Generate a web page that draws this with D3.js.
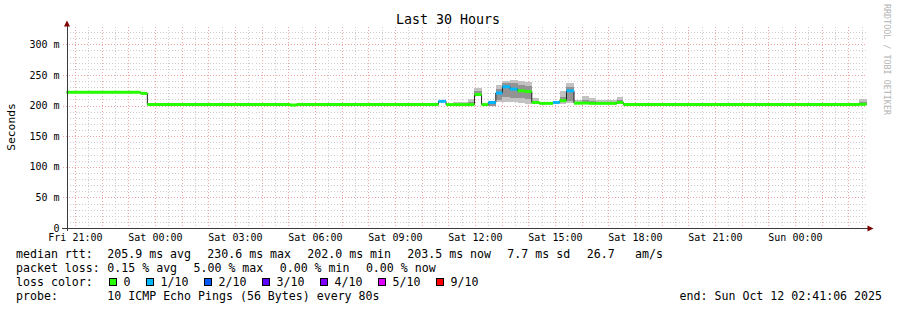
<!DOCTYPE html>
<html>
<head>
<meta charset="utf-8">
<script src="https://cdn.jsdelivr.net/npm/d3@7"></script>
<style>
  body { margin: 0; background: #fff; }
  text { font-family: "DejaVu Sans Mono", monospace; fill: #000; }
</style>
</head>
<body>
<div id="chart"></div>
<script>
// time window of the graph
const startTime = "2025-10-10 20:41:06";
const endTime = "2025-10-12 02:41:06";

// consolidated steps (start of each step)
const stepTimes = [
  "2025-10-10 20:41:06", "2025-10-10 23:28:00", "2025-10-10 23:43:00",
  "2025-10-11 05:04:00", "2025-10-11 05:19:00", "2025-10-11 10:38:00",
  "2025-10-11 10:55:00", "2025-10-11 11:11:00", "2025-10-11 11:45:00",
  "2025-10-11 11:59:00", "2025-10-11 12:15:00", "2025-10-11 12:30:00",
  "2025-10-11 12:47:00", "2025-10-11 13:02:00", "2025-10-11 13:19:00",
  "2025-10-11 13:36:00", "2025-10-11 13:53:00", "2025-10-11 14:08:00",
  "2025-10-11 14:25:00", "2025-10-11 14:56:00", "2025-10-11 15:11:00",
  "2025-10-11 15:26:00", "2025-10-11 15:43:00", "2025-10-11 16:01:00",
  "2025-10-11 16:17:00", "2025-10-11 16:32:00", "2025-10-11 17:19:00",
  "2025-10-11 17:34:00", "2025-10-12 02:24:00"
];
// median rtt in ms
const medianMs = [
  221.5, 219.8, 201.7, 200.8, 201.7, 206.8, 201.5, 201.5, 201.5, 218,
  201.5, 205, 220.4, 230.6, 226.8, 224, 222.8, 205, 203.5, 205,
  208, 224, 203.8, 204, 203.5, 203.5, 205, 201.8, 202
];
// lost pings out of 10
const lossCount = [
  0, 0, 0, 0, 0, 1, 0, 0, 0, 0,
  0, 1, 1, 1, 1, 0, 0, 0, 0, 1,
  0, 1, 0, 0, 0, 0, 0, 0, 0
];
// smoke: full spread of pings and the denser core (null = hidden under line)
const smokeLo = [
  null, null, null, null, null, null, null, 200.5, 200, 215,
  null, 200, 205, 206, 205, 204, 203, 203, null, null,
  203, 204, 202, 202, 202, 202, 203, null, 201
];
const smokeHi = [
  null, null, null, null, null, null, null, 205, 211, 229,
  null, 206, 233, 240, 241, 240, 238.5, 212, null, null,
  224, 237, 209, 216, 213, 209, 214, null, 210
];
const coreLo = [
  null, null, null, null, null, null, null, null, 202, 217,
  null, 200, 209, 214, 213, 212, 210, 204, null, null,
  205, 208, 203, 204, 203, 203, 204, null, 202
];
const coreHi = [
  null, null, null, null, null, null, null, null, 206, 224,
  null, 204, 227, 236, 236, 234, 232, 208, null, null,
  214, 231, 206, 209, 208, 206, 209, null, 206
];

// legend
const lossLabels = ["0", "1/10", "2/10", "3/10", "4/10", "5/10", "9/10"];
const lossColors = ["#26ff00", "#00b8ff", "#0059ff", "#5e00ff", "#7e00ff", "#dd00ff", "#ff0000"];
const rttStats = ["205.9 ms avg", "230.6 ms max", "202.0 ms min", "203.5 ms now", "7.7 ms sd"];
const lossStats = ["0.15 % avg", "5.00 % max", "0.00 % min", "0.00 % now"];
const yTicks = [0, 50, 100, 150, 200, 250, 300];

const width = 897, height = 310;
const plot = { left: 66.5, right: 866.5, top: 26.5, bottom: 228 };

const parse = d3.timeParse("%Y-%m-%d %H:%M:%S");
const t0 = parse(startTime), t1 = parse(endTime);
const times = stepTimes.map(parse);
const steps = times.map((t, i) => ({
  t0: t, t1: i < times.length - 1 ? times[i + 1] : t1,
  median: medianMs[i], loss: lossCount[i],
  lo: smokeLo[i], hi: smokeHi[i], clo: coreLo[i], chi: coreHi[i]
}));

const x = d3.scaleTime().domain([t0, t1]).range([plot.left, plot.right]);
const y = d3.scaleLinear().domain([0, 329]).range([plot.bottom, plot.top]);

const svg = d3.select("#chart").append("svg")
  .attr("width", width).attr("height", height);
svg.append("rect").attr("width", width).attr("height", height).attr("fill", "#fff");

// grid
const grid = svg.append("g").attr("shape-rendering", "crispEdges");
const minorColor = "#cdcdcd", majorColor = "#f0a4a4";

grid.selectAll(".hminor").data(d3.range(0, 329, 10).filter(v => v % 50 !== 0))
  .join("line")
  .attr("x1", plot.left).attr("x2", plot.right)
  .attr("y1", d => Math.round(y(d)) + 0.5).attr("y2", d => Math.round(y(d)) + 0.5)
  .attr("stroke", minorColor).attr("stroke-dasharray", "1,2");

grid.selectAll(".vminor").data(d3.timeMinute.every(30).range(t0, t1).filter(d => d.getMinutes() === 30))
  .join("line")
  .attr("x1", d => Math.round(x(d)) + 0.5).attr("x2", d => Math.round(x(d)) + 0.5)
  .attr("y1", plot.top).attr("y2", plot.bottom)
  .attr("stroke", minorColor).attr("stroke-dasharray", "1,2");

grid.selectAll(".hmajor").data(yTicks.slice(1))
  .join("line")
  .attr("x1", plot.left - 4).attr("x2", plot.right)
  .attr("y1", d => Math.round(y(d)) + 0.5).attr("y2", d => Math.round(y(d)) + 0.5)
  .attr("stroke", majorColor).attr("stroke-dasharray", "1,2");

grid.selectAll(".vmajor").data(d3.timeHour.every(1).range(t0, t1))
  .join("line")
  .attr("x1", d => Math.round(x(d)) + 0.5).attr("x2", d => Math.round(x(d)) + 0.5)
  .attr("y1", plot.top).attr("y2", plot.bottom + 3)
  .attr("stroke", majorColor).attr("stroke-dasharray", "1,2");

// smoke
const smoke = svg.append("g").attr("shape-rendering", "crispEdges");
smoke.selectAll(".outer").data(steps.filter(d => d.lo != null))
  .join("rect")
  .attr("x", d => x(d.t0)).attr("width", d => x(d.t1) - x(d.t0))
  .attr("y", d => y(d.hi)).attr("height", d => y(d.lo) - y(d.hi))
  .attr("fill", "#c2c2c2");
smoke.selectAll(".core").data(steps.filter(d => d.clo != null))
  .join("rect")
  .attr("x", d => x(d.t0)).attr("width", d => x(d.t1) - x(d.t0))
  .attr("y", d => y(d.chi)).attr("height", d => y(d.clo) - y(d.chi))
  .attr("fill", "#939393");

// median line (black step) and loss-coloured segments
const linePts = steps.map(d => [d.t0, d.median]).concat([[t1, medianMs[medianMs.length - 1]]]);
svg.append("path")
  .attr("d", d3.line().x(d => x(d[0])).y(d => y(d[1])).curve(d3.curveStepAfter)(linePts))
  .attr("fill", "none").attr("stroke", "#202020").attr("stroke-width", 1);

svg.append("g").selectAll("line").data(steps)
  .join("line")
  .attr("x1", d => x(d.t0)).attr("x2", d => x(d.t1))
  .attr("y1", d => y(d.median)).attr("y2", d => y(d.median))
  .attr("stroke", d => lossColors[d.loss]).attr("stroke-width", 3);

// axes
const axisColor = "#3a3a3a", arrowColor = "#7f0000";
svg.append("line").attr("x1", plot.left - 5).attr("x2", plot.right + 2)
  .attr("y1", plot.bottom + 0.5).attr("y2", plot.bottom + 0.5)
  .attr("stroke", axisColor).attr("shape-rendering", "crispEdges");
svg.append("line").attr("x1", plot.left + 0.5).attr("x2", plot.left + 0.5)
  .attr("y1", plot.top - 1).attr("y2", plot.bottom + 3)
  .attr("stroke", axisColor).attr("shape-rendering", "crispEdges");
svg.append("path")
  .attr("d", `M${plot.right + 1},${plot.bottom - 2.5}L${plot.right + 7},${plot.bottom + 0.5}L${plot.right + 1},${plot.bottom + 3.5}Z`)
  .attr("fill", arrowColor);
svg.append("path")
  .attr("d", `M${plot.left - 2.5},${plot.top}L${plot.left + 0.5},${plot.top - 6}L${plot.left + 3.5},${plot.top}Z`)
  .attr("fill", arrowColor);

const xAxis = svg.append("g")
  .attr("transform", `translate(0,${plot.bottom})`)
  .call(d3.axisBottom(x).ticks(d3.timeHour.every(3)).tickFormat(d3.timeFormat("%a %H:%M"))
    .tickSize(0).tickPadding(6));
xAxis.select(".domain").remove();
xAxis.selectAll("text").attr("font-size", 10).attr("font-family", "DejaVu Sans Mono").attr("fill", "#000");

const yAxis = svg.append("g")
  .attr("transform", `translate(${plot.left},0)`)
  .call(d3.axisLeft(y).tickValues(yTicks).tickFormat(d => d === 0 ? "0" : d + " m")
    .tickSize(0).tickPadding(7));
yAxis.select(".domain").remove();
yAxis.selectAll("text").attr("font-size", 10).attr("font-family", "DejaVu Sans Mono").attr("fill", "#000");

// titles
svg.append("text").attr("x", 448).attr("y", 24).attr("text-anchor", "middle")
  .attr("font-size", 13.3).text("Last 30 Hours");
svg.append("text").attr("transform", "translate(15,127) rotate(-90)")
  .attr("text-anchor", "middle").attr("font-size", 11.3).text("Seconds");
svg.append("text").attr("transform", "translate(884,4) rotate(90)")
  .attr("font-size", 9.5).attr("textLength", 111).attr("lengthAdjust", "spacingAndGlyphs")
  .style("fill", "#b4b4b4").text("RRDTOOL / TOBI OETIKER");

// legend
const lg = svg.append("g").attr("font-size", 11.6);
const col = 107.3, rowY = [258, 272, 286, 300];
lg.append("text").attr("x", 16).attr("y", rowY[0]).text("median rtt:");
lg.selectAll(".rtt").data(rttStats).join("text")
  .attr("x", (d, i) => col + i * 100).attr("y", rowY[0]).text(d => d);
lg.append("text").attr("x", 586.7).attr("y", rowY[0]).text("26.7");
lg.append("text").attr("x", 635).attr("y", rowY[0]).text("am/s");

lg.append("text").attr("x", 16).attr("y", rowY[1]).text("packet loss:");
lg.selectAll(".ls").data(lossStats).join("text")
  .attr("x", (d, i) => col + i * 86.2).attr("y", rowY[1]).text(d => d);

lg.append("text").attr("x", 16).attr("y", rowY[2]).text("loss color:");
let bx = 108.5;
lossLabels.forEach((lab, i) => {
  lg.append("rect").attr("x", bx + 0.5).attr("y", rowY[2] - 7.5).attr("width", 7).attr("height", 7)
    .attr("fill", lossColors[i]).attr("stroke", "#000").attr("shape-rendering", "crispEdges");
  lg.append("text").attr("x", bx + 15).attr("y", rowY[2]).text(lab);
  bx = bx + 15 + lab.length * 7 + 15;
});

lg.append("text").attr("x", 16).attr("y", rowY[3]).text("probe:");
lg.append("text").attr("x", col).attr("y", rowY[3]).text("10 ICMP Echo Pings (56 Bytes) every 80s");
lg.append("text").attr("x", 882).attr("y", rowY[3]).attr("text-anchor", "end")
  .text("end: Sun Oct 12 02:41:06 2025");
</script>
</body>
</html>
